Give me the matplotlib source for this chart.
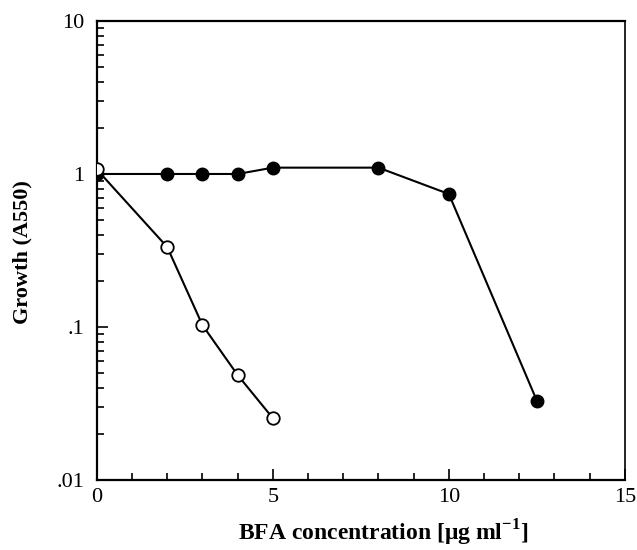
import numpy as np
import matplotlib.pyplot as plt
from matplotlib.ticker import FixedLocator, LogLocator, NullFormatter, MultipleLocator

# data
conc_filled = [0, 2, 3, 4, 5, 8, 10, 12.5]
growth_filled = [1.0, 1.0, 1.0, 1.0, 1.1, 1.1, 0.74, 0.033]
conc_open = [0, 2, 3, 4, 5]
growth_open = [1.07, 0.333, 0.103, 0.0486, 0.0254]

yticks = [0.01, 0.1, 1, 10]
ytick_labels = [".01", ".1", "1", "10"]
xticks = [0, 5, 10, 15]

plt.rcParams['font.family'] = ['Liberation Serif', 'DejaVu Serif']
plt.rcParams['mathtext.fontset'] = 'custom'
plt.rcParams['mathtext.rm'] = 'Liberation Serif'
plt.rcParams['mathtext.bf'] = 'Liberation Serif:bold'

fig = plt.figure(figsize=(6.37, 5.5), dpi=100)
ax = fig.add_axes([0.152, 0.127, 0.829, 0.835])

ax.plot(conc_filled, growth_filled, color='black', lw=1.5, marker='o', ms=9,
        mfc='black', mec='black', zorder=3)
ax.plot(conc_open, growth_open, color='black', lw=1.5, marker='o', ms=9,
        mfc='white', mec='black', mew=1.3, zorder=4)

ax.set_yscale('log')
ax.set_xlim(0, 15)
ax.set_ylim(0.01, 10)

ax.yaxis.set_major_locator(FixedLocator(yticks))
ax.set_yticklabels(ytick_labels)
ax.yaxis.set_minor_locator(LogLocator(base=10, subs=np.arange(2, 10)))
ax.yaxis.set_minor_formatter(NullFormatter())
ax.set_xticks(xticks)
ax.xaxis.set_minor_locator(MultipleLocator(1))

ax.tick_params(which='both', direction='in', top=False, right=False, labelsize=16, width=1.2)
ax.tick_params(which='major', length=8)
ax.tick_params(which='minor', length=5)
ax.tick_params(axis='y', which='major', pad=9)
ax.tick_params(axis='x', which='major', pad=6)
for s in ['left', 'bottom', 'top']:
    ax.spines[s].set_linewidth(1.6)
ax.spines['right'].set_linewidth(1.2)

fig.text(0.601, 0.017, 'BFA concentration [μg ml$^{\\mathbf{-1}}$]',
         ha='center', va='baseline', fontsize=17, fontweight='bold')
fig.text(0.036, 0.542, 'Growth (A550)', rotation=90, ha='center', va='center',
         fontsize=16, fontweight='bold')

fig.savefig('out.png', dpi=100)
